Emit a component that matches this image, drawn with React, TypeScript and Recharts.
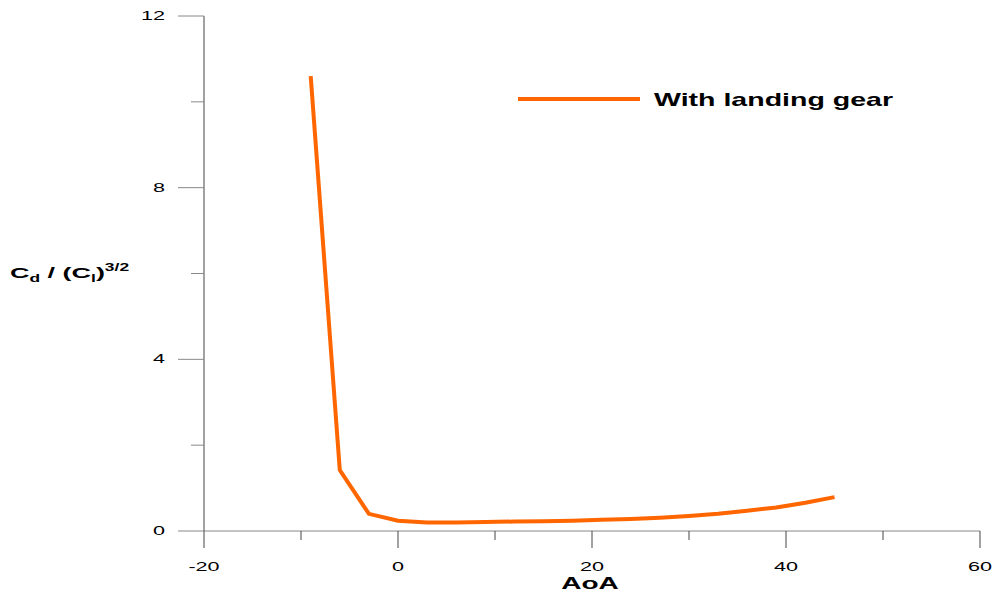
import { LineChart, Line, XAxis, YAxis } from 'recharts';

const aoa = [-9, -6, -3, 0, 3, 6, 9, 12, 15, 18, 21, 24, 27, 30, 33, 36, 39, 42, 45];
const cdRatio = [10.6, 1.42, 0.4, 0.24, 0.2, 0.2, 0.21, 0.22, 0.23, 0.24, 0.26, 0.28, 0.31, 0.35, 0.4, 0.47, 0.55, 0.66, 0.79];

const xTicks = [-20, -10, 0, 10, 20, 30, 40, 50, 60];
const yTicks = [0, 2, 4, 6, 8, 10, 12];

const SERIES_NAME = 'With landing gear';
const ORANGE = '#ff6600';
const FONT = '"Liberation Sans", Arial, sans-serif';

const chartData = aoa.map((a, i) => ({ aoa: a, value: cdRatio[i] }));

// the source image is stretched sideways, so the text is too
const XTick = (props: any) => {
  const { x, y, payload } = props;
  const major = payload.value % 20 === 0;
  return (
    <g>
      <line x1={x} x2={x} y1={y} y2={y + (major ? 17 : 9)} stroke="#444" strokeWidth={1} />
      {major && (
        <g transform={`translate(${x},${y + 40}) scale(1.8,1)`}>
          <text x={0} y={0} textAnchor="middle" fontFamily={FONT} fontSize={12} fill="#000">
            {payload.value}
          </text>
        </g>
      )}
    </g>
  );
};

const YTick = (props: any) => {
  const { x, y, payload } = props;
  const major = payload.value % 4 === 0;
  return (
    <g>
      <line x1={x - (major ? 26 : 13)} x2={x} y1={y} y2={y} stroke="#888" strokeWidth={1} />
      {major && (
        <g transform={`translate(${x - 39},${y + 4}) scale(1.8,1)`}>
          <text x={0} y={0} textAnchor="end" fontFamily={FONT} fontSize={12} fill="#000">
            {payload.value}
          </text>
        </g>
      )}
    </g>
  );
};

const XLabel = (props: any) => {
  const vb = props.viewBox;
  return (
    <g transform={`translate(${vb.x + vb.width / 2 - 2},589) scale(1.75,1)`}>
      <text x={0} y={0} textAnchor="middle" fontFamily={FONT} fontSize={16} fontWeight="bold" fill="#000">
        AoA
      </text>
    </g>
  );
};

const YLabel = () => (
  <g transform="translate(10,278) scale(1.74,1)">
    <text x={0} y={0} fontFamily={FONT} fontSize={15.5} fontWeight="bold" fill="#000">
      C
      <tspan fontSize={10} dy={4}>d</tspan>
      <tspan dy={-4}> / (C</tspan>
      <tspan fontSize={10} dy={4}>l</tspan>
      <tspan dy={-4}>)</tspan>
      <tspan fontSize={10} dy={-7}>3/2</tspan>
    </text>
  </g>
);

const LegendBox = () => (
  <svg width={400} height={30} style={{ position: 'absolute', left: 518, top: 85 }}>
    <line x1={0} x2={122} y1={14} y2={14} stroke={ORANGE} strokeWidth={4} />
    <text
      x={136}
      y={21}
      fontFamily={FONT}
      fontSize={18.6}
      fontWeight="bold"
      fill="#000"
      textLength={239}
      lengthAdjust="spacingAndGlyphs"
    >
      {SERIES_NAME}
    </text>
  </svg>
);

export default function App() {
  return (
    <div style={{ position: 'absolute', left: 0, top: 0, width: 995, height: 597, background: '#fff' }}>
      <LineChart width={995} height={597} data={chartData} margin={{ top: 16, right: 15, left: 0, bottom: 0 }}>
        <XAxis
          dataKey="aoa"
          type="number"
          domain={[-20, 60]}
          ticks={xTicks}
          interval={0}
          height={66}
          tickSize={0}
          tickMargin={0}
          tickLine={false}
          axisLine={{ stroke: '#888', strokeWidth: 1 }}
          tick={<XTick />}
          label={{ content: <XLabel /> }}
        />
        <YAxis
          type="number"
          domain={[0, 12]}
          ticks={yTicks}
          interval={0}
          width={204}
          tickSize={0}
          tickMargin={0}
          tickLine={false}
          axisLine={{ stroke: '#444', strokeWidth: 1 }}
          tick={<YTick />}
          label={{ content: <YLabel /> }}
        />
        <Line
          type="linear"
          dataKey="value"
          name={SERIES_NAME}
          stroke={ORANGE}
          strokeWidth={4}
          dot={false}
          isAnimationActive={false}
        />
      </LineChart>
      <LegendBox />
    </div>
  );
}
